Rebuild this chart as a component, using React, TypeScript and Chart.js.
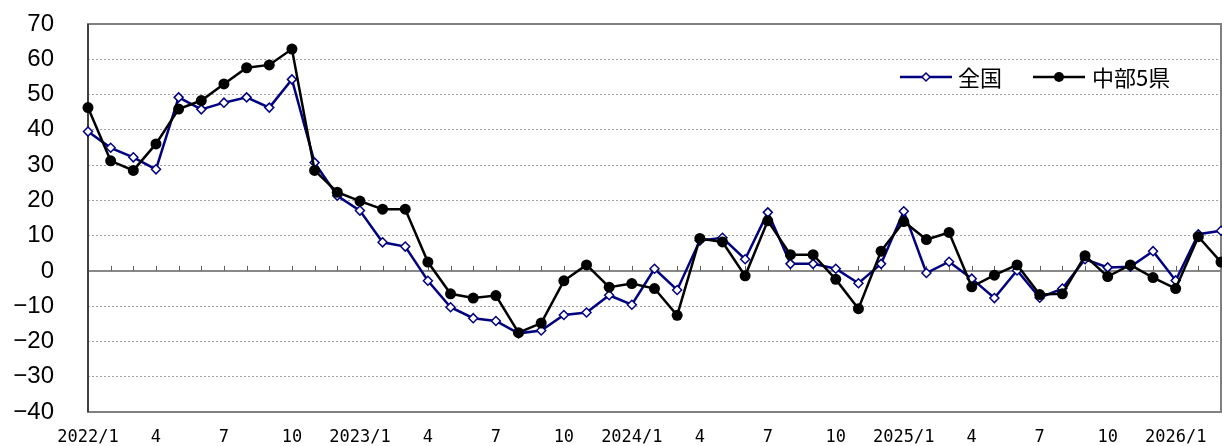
import React, { useEffect, useRef } from "react";
import { Chart, registerables } from "chart.js";

Chart.register(...registerables);

const categories = [
  "2022/1","2022/2","2022/3","2022/4","2022/5","2022/6","2022/7","2022/8","2022/9","2022/10","2022/11","2022/12",
  "2023/1","2023/2","2023/3","2023/4","2023/5","2023/6","2023/7","2023/8","2023/9","2023/10","2023/11","2023/12",
  "2024/1","2024/2","2024/3","2024/4","2024/5","2024/6","2024/7","2024/8","2024/9","2024/10","2024/11","2024/12",
  "2025/1","2025/2","2025/3","2025/4","2025/5","2025/6","2025/7","2025/8","2025/9","2025/10","2025/11","2025/12",
  "2026/1","2026/2","2026/3",
];

const tickLabels = [
  "2022/1","","","4","","","7","","","10","","",
  "2023/1","","","4","","","7","","","10","","",
  "2024/1","","","4","","","7","","","10","","",
  "2025/1","","","4","","","7","","","10","","",
  "2026/1","","",
];

const nationalValues = [
  39.5, 34.9, 32.2, 28.8, 49.2, 45.8, 47.7, 49.2, 46.3, 54.3, 30.7, 21.3,
  17.1, 8.1, 6.9, -2.8, -10.3, -13.4, -14.2, -17.7, -16.9, -12.5, -11.8, -6.9,
  -9.6, 0.6, -5.4, 8.6, 9.4, 3.3, 16.6, 2.0, 2.0, 0.6, -3.5, 2.0,
  16.9, -0.6, 2.6, -2.2, -7.7, 0.1, -7.6, -5.0, 3.3, 1.0, 1.2, 5.6,
  -2.7, 10.4, 11.4,
];

const chubuValues = [
  46.3, 31.2, 28.5, 36.0, 45.9, 48.3, 53.0, 57.6, 58.4, 62.9, 28.5, 22.3,
  19.8, 17.5, 17.5, 2.5, -6.5, -7.7, -7.0, -17.5, -14.8, -2.8, 1.7, -4.6,
  -3.6, -5.0, -12.6, 9.2, 8.2, -1.4, 14.2, 4.6, 4.6, -2.4, -10.7, 5.6,
  14.0, 8.9, 10.9, -4.5, -1.2, 1.7, -6.7, -6.5, 4.3, -1.6, 1.7, -1.9,
  -5.0, 9.7, 2.5,
];

const seriesNames = ["全国", "中部5県"];
const navy = "#000080";

const decorPlugin = {
  id: "decor",
  beforeDatasetsDraw(chart: any) {
    const { ctx, chartArea, scales } = chart;
    const y0 = scales.y.getPixelForValue(0);
    ctx.save();
    ctx.strokeStyle = "#606060";
    ctx.lineWidth = 1.5;
    ctx.beginPath();
    ctx.moveTo(chartArea.left, y0);
    ctx.lineTo(chartArea.right, y0);
    ctx.stroke();
    ctx.lineWidth = 1;
    for (let i = 1; i < categories.length; i++) {
      const x = Math.round(scales.x.getPixelForValue(i)) + 0.5;
      ctx.beginPath();
      ctx.moveTo(x, y0);
      ctx.lineTo(x, y0 - 5);
      ctx.stroke();
    }
    ctx.strokeStyle = "#808080";
    ctx.lineWidth = 2;
    ctx.strokeRect(chartArea.left, chartArea.top, chartArea.right - chartArea.left, chartArea.bottom - chartArea.top);
    ctx.strokeStyle = "#404040";
    ctx.beginPath();
    ctx.moveTo(chartArea.left, chartArea.top);
    ctx.lineTo(chartArea.left, chartArea.bottom);
    ctx.stroke();
    ctx.restore();
  },
  afterDraw(chart: any) {
    const { ctx } = chart;
    ctx.save();
    const ly = 77;
    ctx.strokeStyle = navy;
    ctx.lineWidth = 2.5;
    ctx.beginPath();
    ctx.moveTo(900, ly);
    ctx.lineTo(952, ly);
    ctx.stroke();
    ctx.lineWidth = 1.5;
    ctx.fillStyle = "#ffffff";
    ctx.beginPath();
    ctx.moveTo(926, ly - 4);
    ctx.lineTo(930, ly);
    ctx.lineTo(926, ly + 4);
    ctx.lineTo(922, ly);
    ctx.closePath();
    ctx.fill();
    ctx.stroke();
    ctx.strokeStyle = "#000000";
    ctx.lineWidth = 2.5;
    ctx.beginPath();
    ctx.moveTo(1033, ly);
    ctx.lineTo(1085, ly);
    ctx.stroke();
    ctx.fillStyle = "#000000";
    ctx.beginPath();
    ctx.arc(1059, ly, 5, 0, Math.PI * 2);
    ctx.fill();
    ctx.font = '22px "Noto Sans CJK JP"';
    ctx.textBaseline = "middle";
    ctx.textAlign = "left";
    ctx.fillText(seriesNames[0], 958, ly + 1);
    ctx.fillText(seriesNames[1], 1092, ly + 1);
    ctx.restore();
  },
};

export default function App() {
  const ref = useRef<HTMLCanvasElement>(null);
  useEffect(() => {
    document.body.style.margin = "0";
    const chart = new Chart(ref.current!, {
      type: "line",
      data: {
        labels: categories,
        datasets: [
          {
            label: seriesNames[0],
            data: nationalValues,
            borderColor: navy,
            borderWidth: 2.5,
            backgroundColor: "#ffffff",
            pointStyle: "rectRot",
            pointRadius: 4.5,
            pointBorderWidth: 1.5,
            pointBackgroundColor: "#ffffff",
            pointBorderColor: navy,
            tension: 0,
            clip: false as any,
            order: 1,
          },
          {
            label: seriesNames[1],
            data: chubuValues,
            borderColor: "#000000",
            borderWidth: 2.5,
            backgroundColor: "#000000",
            pointStyle: "circle",
            pointRadius: 5.5,
            pointBorderWidth: 0,
            pointBackgroundColor: "#000000",
            tension: 0,
            clip: false as any,
            order: 0,
          },
        ],
      },
      options: {
        responsive: false,
        animation: false,
        layout: { autoPadding: false, padding: { top: 24, right: 1, left: 0, bottom: 0 } },
        plugins: { legend: { display: false }, tooltip: { enabled: false } },
        scales: {
          x: {
            type: "category",
            offset: false,
            grid: { display: true, drawOnChartArea: false, drawTicks: true, tickLength: 15, tickColor: "rgba(0,0,0,0)", color: "rgba(0,0,0,0)" },
            border: { display: false },
            ticks: {
              autoSkip: false,
              maxRotation: 0,
              padding: 0,
              color: "#000",
              font: { family: '"DejaVu Sans Mono"', size: 17 },
              callback: (_v: any, i: number) => tickLabels[i] ?? "",
            },
            afterFit: (s: any) => { s.height = 34; },
          },
          y: {
            min: -40,
            max: 70,
            ticks: {
              stepSize: 10,
              padding: 3,
              color: "#000",
              font: { family: '"Liberation Sans"', size: 24 },
              callback: (v: any) => (Number(v) < 0 ? "\u2212" + Math.abs(Number(v)) : String(v)),
            },
            grid: {
              drawTicks: true,
              tickLength: 31,
              tickColor: "rgba(0,0,0,0)",
              color: (c: any) => (c.tick && c.tick.value === 0 ? "rgba(0,0,0,0)" : "#a0a0a0"),
              lineWidth: 1,
            },
            border: { display: false, dash: [2, 2] },
            afterFit: (s: any) => { s.width = 88; },
          },
        },
      },
      plugins: [decorPlugin],
    });
    return () => chart.destroy();
  }, []);
  return (
    <div style={{ width: 1222, height: 446 }}>
      <canvas ref={ref} width={1222} height={446} style={{ display: "block" }} />
    </div>
  );
}
